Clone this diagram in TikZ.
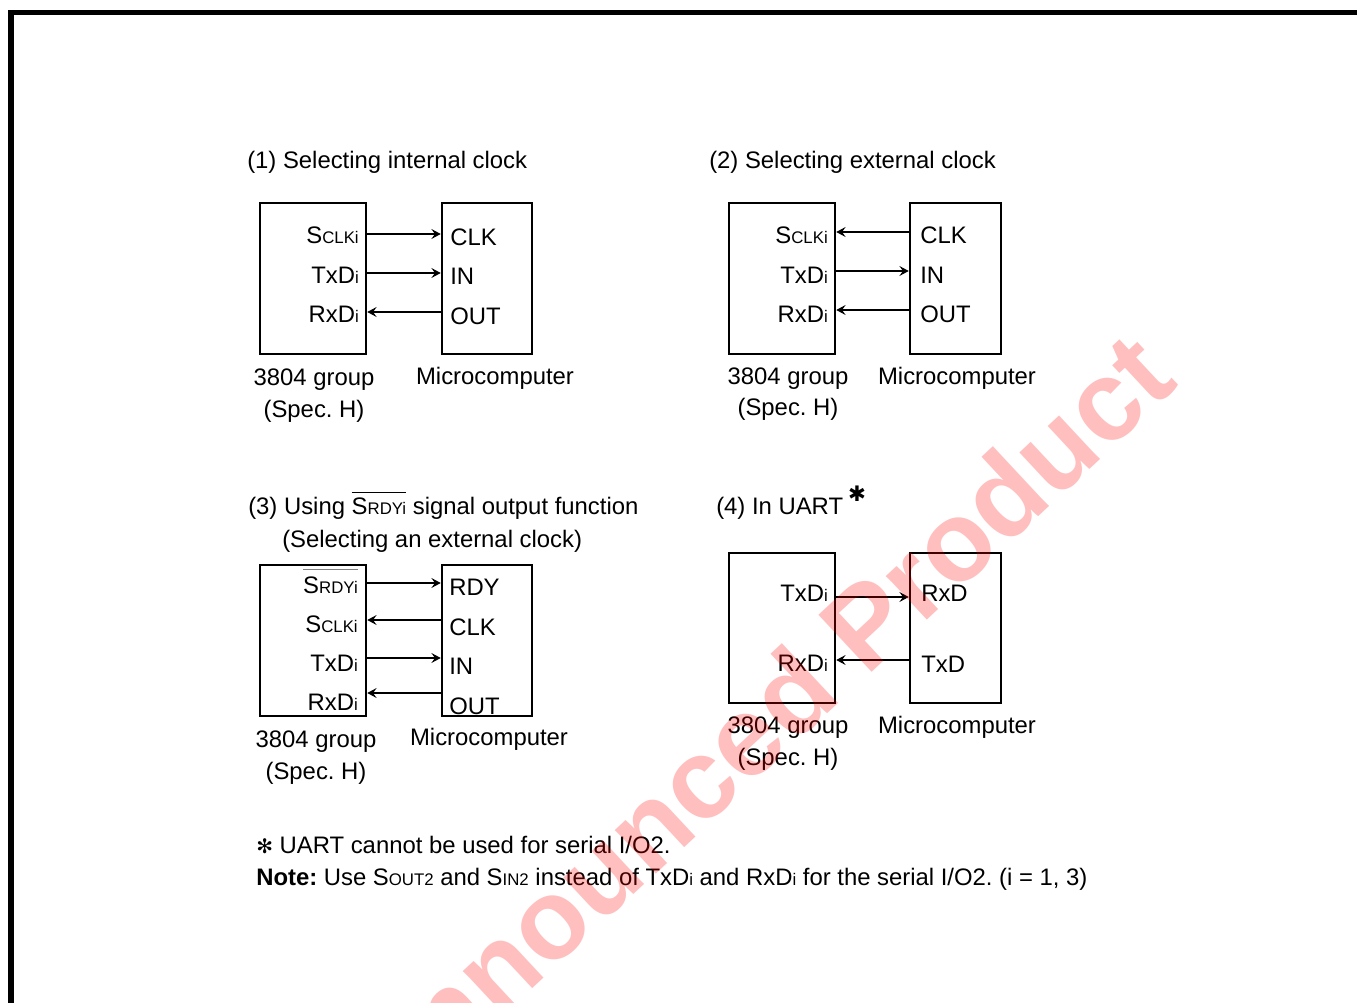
\documentclass[tikz,border=0pt]{standalone}
\usepackage{fontspec}
\setmainfont{Liberation Sans}
\newfontfamily\djv{DejaVu Sans}
\usetikzlibrary{arrows.meta,fit}
\newcommand\smc[1]{{\fontsize{12.6}{12}\selectfont #1}}
\newcommand\ovl[3]{{\setbox0=\hbox{#3}\rlap{\color{#1}\raisebox{\dimexpr\ht0+#2\relax}{\rule{\wd0}{0.8pt}}}\box0}}
\begin{document}
\frenchspacing
\begin{tikzpicture}[x=0.75pt,y=-0.75pt,
  font=\fontsize{17.9}{21}\selectfont,
  box/.style={draw, line width=1.9pt, inner sep=0pt},
  lbl/.style={inner sep=0pt, anchor=base east},
  rlbl/.style={inner sep=0pt, anchor=base west},
  ctr/.style={inner sep=0pt, anchor=base},
  ttl/.style={inner sep=0pt, anchor=base west},
  arr/.style={-{Stealth[length=7pt,width=7.5pt,inset=2.7pt]}, line width=0.9pt}]
\useasboundingbox (0,0) rectangle (1357,1003);
% frame
\draw[line width=4.2pt, line join=miter] (11,1010) -- (11,12.5) -- (1365,12.5);

% ---------- panel 1
\node[ttl] (t1) at (247,168) {(1) Selecting internal clock};
\node[box, fit={(260,203)(366,354)}] (A1) {};
\node[box, fit={(442,203)(532,354)}] (B1) {};
\node[lbl] (a1s) at (359,243) {S\smc{CLKi}};
\node[lbl] (a1t) at (359,283) {TxD\smc{i}};
\node[lbl] (a1r) at (359,322) {RxD\smc{i}};
\node[rlbl] (b1c) at (450,245) {CLK};
\node[rlbl] (b1i) at (450,284) {IN};
\node[rlbl] (b1o) at (450,324) {OUT};
\draw[arr] (A1.east |- 0,234) -- (B1.west |- 0,234);
\draw[arr] (A1.east |- 0,273) -- (B1.west |- 0,273);
\draw[arr] (B1.west |- 0,312) -- (A1.east |- 0,312);
\node[ctr] (g1) at (314,385) {3804 group};
\node[ctr] (h1) at (314,417) {(Spec. H)};
\node[ctr] (m1) at (495,384) {Microcomputer};

% ---------- panel 2
\node[ttl] (t2) at (709,168) {(2) Selecting external clock};
\node[box, fit={(729,203)(835,354)}] (A2) {};
\node[box, fit={(910,203)(1001,354)}] (B2) {};
\node[lbl] (a2s) at (828,243) {S\smc{CLKi}};
\node[lbl] (a2t) at (828,283) {TxD\smc{i}};
\node[lbl] (a2r) at (828,322) {RxD\smc{i}};
\node[rlbl] (b2c) at (920,243) {CLK};
\node[rlbl] (b2i) at (920,283) {IN};
\node[rlbl] (b2o) at (920,322) {OUT};
\draw[arr] (B2.west |- 0,232) -- (A2.east |- 0,232);
\draw[arr] (A2.east |- 0,271) -- (B2.west |- 0,271);
\draw[arr] (B2.west |- 0,310) -- (A2.east |- 0,310);
\node[ctr] (g2) at (788,384) {3804 group};
\node[ctr] (h2) at (788,415) {(Spec. H)};
\node[ctr] (m2) at (957,384) {Microcomputer};

% ---------- panel 3
\node[ttl] (t3) at (248,514) {(3) Using \ovl{black}{3.5pt}{S\smc{RDYi}} signal output function};
\node[ttl] (t3b) at (282,547) {(Selecting an external clock)};
\node[box, fit={(260,565)(366,716)}] (A3) {};
\node[box, fit={(442,565)(532,716)}] (B3) {};
\node[lbl] (a3y) at (358,593) {\ovl{gray}{4.5pt}{S\smc{RDYi}}};
\node[lbl] (a3s) at (358,632) {S\smc{CLKi}};
\node[lbl] (a3t) at (358,671) {TxD\smc{i}};
\node[lbl] (a3r) at (358,710) {RxD\smc{i}};
\node[rlbl] (b3y) at (449,595) {RDY};
\node[rlbl] (b3c) at (449,635) {CLK};
\node[rlbl] (b3i) at (449,674) {IN};
\node[rlbl] (b3o) at (449,714) {OUT};
\draw[arr] (A3.east |- 0,583) -- (B3.west |- 0,583);
\draw[arr] (B3.west |- 0,620) -- (A3.east |- 0,620);
\draw[arr] (A3.east |- 0,658) -- (B3.west |- 0,658);
\draw[arr] (B3.west |- 0,693) -- (A3.east |- 0,693);
\node[ctr] (g3) at (316,747) {3804 group};
\node[ctr] (h3) at (316,779) {(Spec. H)};
\node[ctr] (m3) at (489,745) {Microcomputer};

% ---------- panel 4
\node[ttl] (t4) at (716,514) {(4) In UART};
\node[inner sep=0pt] (ast) at (857,494) {\djv\fontsize{16}{16}\selectfont ✱};
\node[box, fit={(729,553)(835,703)}] (A4) {};
\node[box, fit={(910,553)(1001,703)}] (B4) {};
\node[lbl] (a4t) at (828,601) {TxD\smc{i}};
\node[lbl] (a4r) at (828,671) {RxD\smc{i}};
\node[rlbl] (b4r) at (921,601) {RxD};
\node[rlbl] (b4t) at (921,672) {TxD};
\draw[arr] (A4.east |- 0,597) -- (B4.west |- 0,597);
\draw[arr] (B4.west |- 0,660) -- (A4.east |- 0,660);
\node[ctr] (g4) at (788,733) {3804 group};
\node[ctr] (h4) at (788,765) {(Spec. H)};
\node[ctr] (m4) at (957,733) {Microcomputer};

% ---------- notes
\node[ttl] (n1) at (256,853) {{\djv\fontsize{15}{15}\selectfont ✻} UART cannot be used for serial I/O2.};
\node[ttl] (n2) at (256,885) {\textbf{Note:} Use S\smc{OUT2} and S\smc{IN2} instead of TxD\smc{i} and RxD\smc{i} for the serial I/O2. (i = 1, 3)};

% ---------- watermark
\node[inner sep=0pt, anchor=base east, rotate=43, text=red, opacity=0.25,
  font=\fontsize{85}{85}\selectfont\bfseries] (wm) at (1180,385) {Unannounced Product};
\end{tikzpicture}
\end{document}
